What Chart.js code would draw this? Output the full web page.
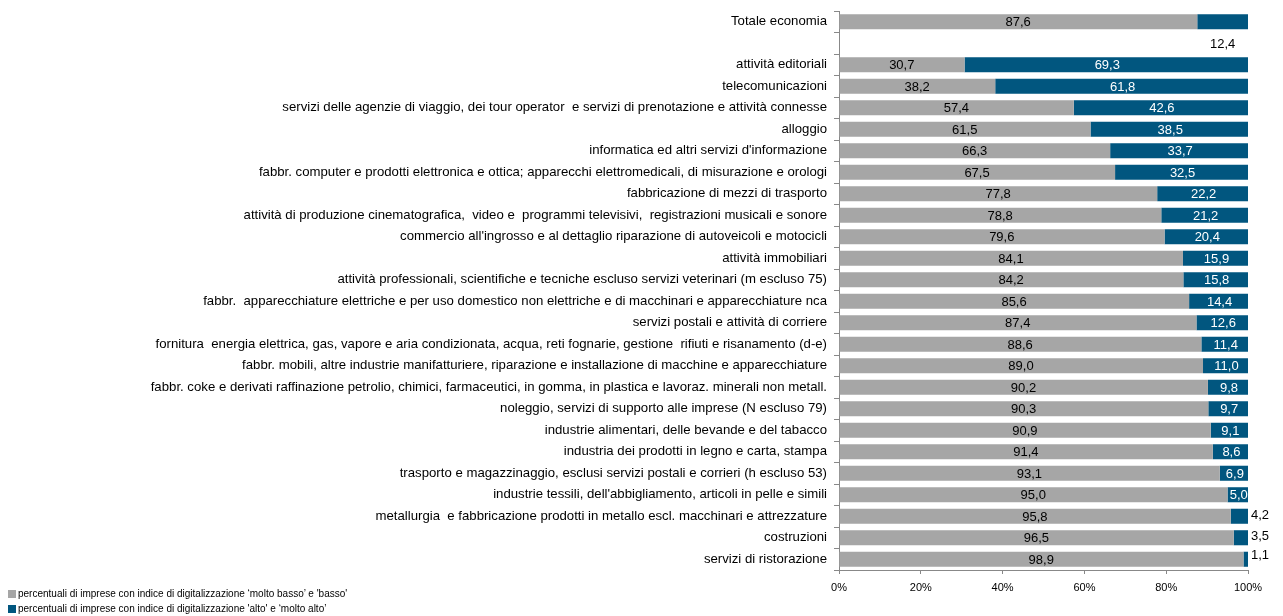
<!DOCTYPE html>
<html><head><meta charset="utf-8">
<script src="https://cdn.jsdelivr.net/npm/chart.js@4"></script>
<style>
html,body{margin:0;padding:0;background:#fff;}
#wrap{position:relative;width:1283px;height:616px;}
#legend{position:absolute;left:8px;top:586px;font:10px "Liberation Sans",Arial,sans-serif;color:#000;line-height:15px;}
#legend .sw{display:inline-block;width:8px;height:8px;margin-right:2px;vertical-align:-1px;}
</style></head>
<body><div id="wrap"><canvas id="c" width="1283" height="616"></canvas>
<div id="legend"></div></div>
<script>
const categories = [
"Totale economia",
"",
"attività editoriali",
"telecomunicazioni",
"servizi delle agenzie di viaggio, dei tour operator  e servizi di prenotazione e attività connesse",
"alloggio",
"informatica ed altri servizi d'informazione",
"fabbr. computer e prodotti elettronica e ottica; apparecchi elettromedicali, di misurazione e orologi",
"fabbricazione di mezzi di trasporto",
"attività di produzione cinematografica,  video e  programmi televisivi,  registrazioni musicali e sonore",
"commercio all'ingrosso e al dettaglio riparazione di autoveicoli e motocicli",
"attività immobiliari",
"attività professionali, scientifiche e tecniche escluso servizi veterinari (m escluso 75)",
"fabbr.  apparecchiature elettriche e per uso domestico non elettriche e di macchinari e apparecchiature nca",
"servizi postali e attività di corriere",
"fornitura  energia elettrica, gas, vapore e aria condizionata, acqua, reti fognarie, gestione  rifiuti e risanamento (d-e)",
"fabbr. mobili, altre industrie manifatturiere, riparazione e installazione di macchine e apparecchiature",
"fabbr. coke e derivati raffinazione petrolio, chimici, farmaceutici, in gomma, in plastica e lavoraz. minerali non metall.",
"noleggio, servizi di supporto alle imprese (N escluso 79)",
"industrie alimentari, delle bevande e del tabacco",
"industria dei prodotti in legno e carta, stampa",
"trasporto e magazzinaggio, esclusi servizi postali e corrieri (h escluso 53)",
"industrie tessili, dell'abbigliamento, articoli in pelle e simili",
"metallurgia  e fabbricazione prodotti in metallo escl. macchinari e attrezzature",
"costruzioni",
"servizi di ristorazione"
];
const lowValues = [87.6,null,30.7,38.2,57.4,61.5,66.3,67.5,77.8,78.8,79.6,84.1,84.2,85.6,87.4,88.6,89.0,90.2,90.3,90.9,91.4,93.1,95.0,95.8,96.5,98.9];
const highValues = [12.4,null,69.3,61.8,42.6,38.5,33.7,32.5,22.2,21.2,20.4,15.9,15.8,14.4,12.6,11.4,11.0,9.8,9.7,9.1,8.6,6.9,5.0,4.2,3.5,1.1];
const seriesNames = [
"percentuali  di imprese con indice di digitalizzazione \u2018molto basso\u2019 e 'basso'",
"percentuali  di imprese con indice di digitalizzazione 'alto' e \u2018molto alto\u2019"
];
const xTicks = [0,20,40,60,80,100];

const GRAY = '#A6A6A6', BLUE = '#01567F';
const FONT = '"Liberation Sans", Arial, sans-serif';

const fmt = v => v.toFixed(1).replace('.', ',');

const labelPlugin = {
  id: 'vals',
  afterDatasetsDraw(chart) {
    const ctx = chart.ctx;
    const x = chart.scales.x, y = chart.scales.y;
    ctx.save();
    ctx.font = '13px ' + FONT;
    ctx.textBaseline = 'middle';
    for (let i = 0; i < categories.length; i++) {
      const lv = lowValues[i], hv = highValues[i];
      if (lv == null) continue;
      const yc = y.getPixelForValue(i);
      ctx.textAlign = 'center';
      ctx.fillStyle = '#000';
      ctx.fillText(fmt(lv), (x.getPixelForValue(0) + x.getPixelForValue(lv)) / 2, yc + 1);
      const xs = x.getPixelForValue(lv), xe = x.getPixelForValue(lv + hv);
      if (i === 0) {
        ctx.fillStyle = '#000';
        ctx.fillText(fmt(hv), (xs + xe) / 2, y.getPixelForValue(1) + 1);
      } else if (hv >= 5) {
        ctx.fillStyle = '#fff';
        ctx.fillText(fmt(hv), (xs + xe) / 2 + 1, yc + 1);
      } else {
        ctx.fillStyle = '#000';
        ctx.textAlign = 'left';
        ctx.fillText(fmt(hv), xe + 3, yc - (i === categories.length - 1 ? 4 : 1));
      }
    }
    ctx.restore();
  }
};

new Chart(document.getElementById('c'), {
  type: 'bar',
  data: {
    labels: categories,
    datasets: [
      {label: seriesNames[0], data: lowValues, backgroundColor: GRAY, categoryPercentage: 1, barPercentage: 0.7},
      {label: seriesNames[1], data: highValues, backgroundColor: BLUE, categoryPercentage: 1, barPercentage: 0.7}
    ]
  },
  options: {
    indexAxis: 'y',
    responsive: false,
    animation: false,
    layout: {padding: {top: 11, right: 35, left: 0, bottom: 0}},
    plugins: {legend: {display: false}, tooltip: {enabled: false}},
    scales: {
      x: {
        stacked: true, min: 0, max: 100,
        afterBuildTicks: s => { s.ticks = xTicks.map(v => ({value: v})); },
        afterFit: s => { s.height = 46; },
        grid: {drawOnChartArea: false, drawTicks: true, tickLength: 4, color: '#888'},
        border: {color: '#888'},
        ticks: {font: {family: FONT, size: 11}, color: '#000', padding: 7, callback: v => v + '%', maxRotation: 0}
      },
      y: {
        stacked: true,
        afterFit: s => { s.width = 839; s.paddingTop = 0; s.paddingBottom = 0; },
        grid: {drawOnChartArea: false, drawTicks: true, tickLength: 5, color: '#888', offset: true},
        border: {color: '#888'},
        ticks: {font: {family: FONT, size: 13.2}, color: '#000', padding: 7, autoSkip: false}
      }
    }
  },
  plugins: [labelPlugin]
});

const lg = document.getElementById('legend');
[GRAY, BLUE].forEach((c, i) => {
  const d = document.createElement('div');
  const s = document.createElement('span'); s.className = 'sw'; s.style.background = c;
  d.appendChild(s); d.appendChild(document.createTextNode(seriesNames[i]));
  lg.appendChild(d);
});
</script></body></html>
